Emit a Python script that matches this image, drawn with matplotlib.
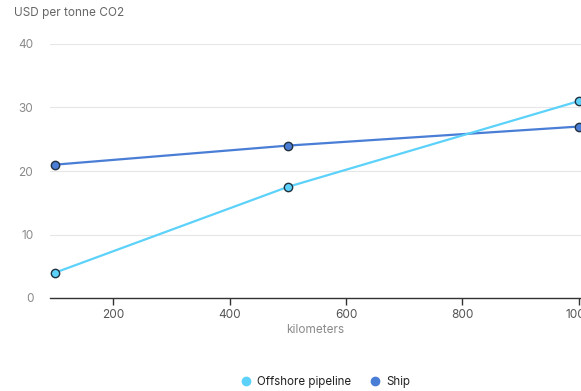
import matplotlib
matplotlib.use("Agg")
import matplotlib.pyplot as plt
from matplotlib.lines import Line2D

plt.rcParams['font.family'] = ['Inter', 'DejaVu Sans']

distance_km = [100, 500, 1000]
offshore_pipeline = [4, 17.5, 31]
ship = [21, 24, 27]
y_ticks = [0, 10, 20, 30, 40]
x_ticks = [200, 400, 600, 800, 1000]

c_pipe = '#5CD2FA'
c_ship = '#4A7ED6'
edge = '#22313F'

fig = plt.figure(figsize=(5.81, 3.91), dpi=100)
ax = fig.add_axes([50/581, 93/391, 531/581, 254/391])

ax.plot(distance_km, ship, color=c_ship, lw=1.6, marker='o', ms=6,
        mfc=c_ship, mec=edge, mew=1.0, zorder=3, clip_on=False, label='Ship')
ax.plot(distance_km, offshore_pipeline, color=c_pipe, lw=1.6, marker='o', ms=6,
        mfc=c_pipe, mec=edge, mew=1.0, zorder=4, clip_on=False, label='Offshore pipeline')

ax.set_xlim(91, 1004)
ax.set_ylim(0, 40)
ax.set_yticks(y_ticks)
ax.set_xticks(x_ticks)
ax.grid(axis='y', color='#E6E6E6', lw=0.8)
ax.set_axisbelow(True)
for s in ['top', 'right', 'left']:
    ax.spines[s].set_visible(False)
ax.spines['bottom'].set_color('#333333')
ax.spines['bottom'].set_linewidth(1.0)
ax.tick_params(axis='y', length=0, pad=12, labelsize=8.5, labelcolor='#8A8A8A')
ax.tick_params(axis='x', length=5, width=1, color='#333333', pad=3,
               labelsize=8.5, labelcolor='#555555')
ax.set_xlabel('kilometers', fontsize=8.5, color='#8A8A8A', labelpad=2)

fig.text(14/581, 1 - 13/391, 'USD per tonne CO2', fontsize=8.5, color='#666666',
         ha='left', va='center')

handles = [Line2D([], [], ls='', marker='o', ms=6, color=c_pipe),
           Line2D([], [], ls='', marker='o', ms=6, color=c_ship)]
fig.legend(handles, ['Offshore pipeline', 'Ship'], loc='center',
           bbox_to_anchor=(326/581, 1 - 382/391), ncol=2, frameon=False,
           fontsize=8.3, handletextpad=0.6, columnspacing=1.7, handlelength=0.7,
           labelcolor='#222222')

fig.savefig('out.png', dpi=100)
